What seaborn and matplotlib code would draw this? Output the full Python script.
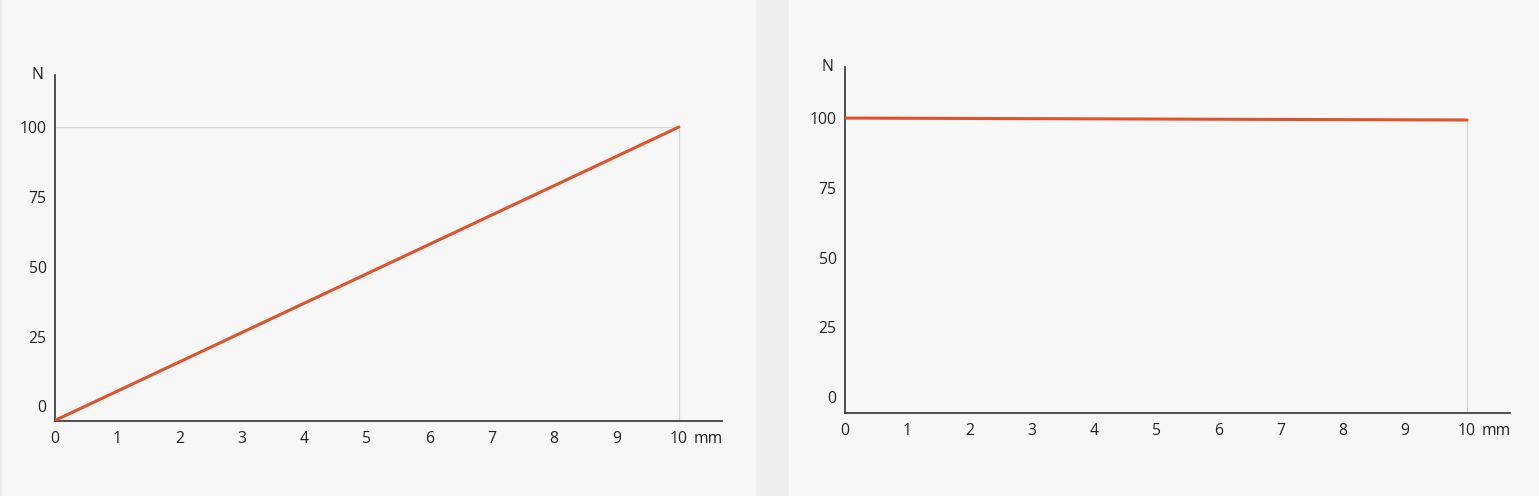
import matplotlib
matplotlib.use("Agg")
import matplotlib.pyplot as plt
import seaborn as sns
import pandas as pd
from matplotlib.patches import Rectangle

# data
travel_mm = [0, 10]
force_left = [-5, 100]
force_right = [100, 99.3]
x_ticks = list(range(0, 11))
y_ticks = [0, 25, 50, 75, 100]

sns.set_style("white")
plt.rcParams['font.family'] = ['Open Sans', 'DejaVu Sans']

W, H = 1539, 496
fig = plt.figure(figsize=(W / 100, H / 100), dpi=100, facecolor="#eeeeee")

# panel backgrounds (behind the axes)
panel_col = "#f7f7f7"
fig.patches.append(Rectangle((2 / W, 0), (756 - 2) / W, 1, transform=fig.transFigure,
                             facecolor=panel_col, edgecolor="none", zorder=-5))
fig.patches.append(Rectangle((789 / W, 0), (W - 789) / W, 1, transform=fig.transFigure,
                             facecolor=panel_col, edgecolor="none", zorder=-5))

line_col = "#e0522b"
ref_col = "#d6d6d6"
axis_col = "#333333"
txt_col = "#222222"
fs = 11.3


def make_panel(rect_px, values, ylim, hline):
    l, t, r, b = rect_px
    ax = fig.add_axes([l / W, (H - b) / H, (r - l) / W, (b - t) / H])
    ax.set_facecolor("none")
    df = pd.DataFrame({"mm": travel_mm, "N": values})

    # reference lines to the end point
    ax.vlines(travel_mm[-1], ylim[0], values[-1], color=ref_col, lw=0.9, zorder=1)
    if hline:
        ax.hlines(values[-1], travel_mm[0], travel_mm[-1], color=ref_col, lw=0.9, zorder=1)

    sns.lineplot(data=df, x="mm", y="N", ax=ax, color=line_col, lw=2.2, zorder=3)

    ax.set_xlim(0, 10.69)
    ax.set_ylim(*ylim)
    ax.set_xticks(x_ticks)
    ax.set_yticks(y_ticks)
    ax.set_xlabel("")
    ax.set_ylabel("")
    for s in ["top", "right"]:
        ax.spines[s].set_visible(False)
    for s in ["left", "bottom"]:
        ax.spines[s].set_color(axis_col)
        ax.spines[s].set_linewidth(1.2)
    ax.tick_params(axis="both", length=0, labelsize=fs, colors=txt_col)
    ax.tick_params(axis="x", pad=7)
    ax.tick_params(axis="y", pad=6)

    ax.text(-0.018, 1.0, "N", transform=ax.transAxes, ha="right", va="center",
            fontsize=fs, color=txt_col)
    ax.text(10.47, -0.063, "mm", transform=ax.get_xaxis_transform(), ha="center",
            va="baseline", fontsize=fs, color=txt_col)
    return ax


make_panel((55, 75, 722, 421), force_left, (-5.2, 118.6), True)
make_panel((845, 67, 1510, 413), force_right, (-5.7, 118.3), False)

fig.savefig("out.png", dpi=100, facecolor=fig.get_facecolor())
